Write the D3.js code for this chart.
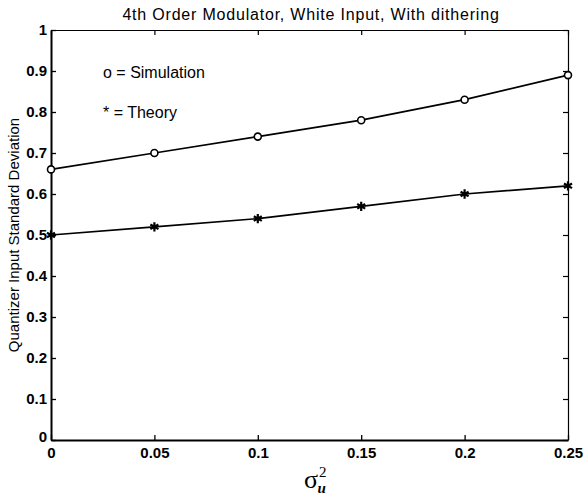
<!DOCTYPE html>
<html>
<head>
<meta charset="utf-8">
<script src="https://cdn.jsdelivr.net/npm/d3@7"></script>
<style>
body { margin: 0; background: #fff; }
text { font-family: "Liberation Sans", Arial, sans-serif; fill: #000; }
</style>
</head>
<body>
<div id="chart-area"></div>
<script>
// data
var sigmaU2 = [0, 0.05, 0.1, 0.15, 0.2, 0.25];
var simulation = [0.66, 0.70, 0.74, 0.78, 0.83, 0.89];
var theory = [0.50, 0.52, 0.54, 0.57, 0.60, 0.62];
var xTicks = [0, 0.05, 0.1, 0.15, 0.2, 0.25];
var yTicks = [0, 0.1, 0.2, 0.3, 0.4, 0.5, 0.6, 0.7, 0.8, 0.9, 1];

var margin = { left: 51, right: 17, top: 30, bottom: 57 };
var width = 585 - margin.left - margin.right;
var height = 497 - margin.top - margin.bottom;

var svg = d3.select("#chart-area").append("svg")
    .attr("width", 585)
    .attr("height", 497);

var g = svg.append("g")
    .attr("transform", "translate(" + margin.left + ", " + margin.top + ")");

var x = d3.scaleLinear().domain([0, 0.25]).range([0, width]);
var y = d3.scaleLinear().domain([0, 1]).range([height, 0]);

var fmt = (d) => String(d);

// axes (ticks pointing inward, matlab style)
var xAxis = g.append("g")
    .attr("transform", "translate(0, " + height + ")")
    .call(d3.axisBottom(x).tickValues(xTicks).tickSizeInner(-5).tickSizeOuter(0).tickPadding(7).tickFormat(fmt));
var yAxis = g.append("g")
    .call(d3.axisLeft(y).tickValues(yTicks).tickSizeInner(-5).tickSizeOuter(0).tickPadding(4).tickFormat(fmt));
var xTop = g.append("g")
    .call(d3.axisTop(x).tickValues(xTicks).tickSizeInner(-5).tickSizeOuter(0).tickFormat(""));
var yRight = g.append("g")
    .attr("transform", "translate(" + width + ", 0)")
    .call(d3.axisRight(y).tickValues(yTicks).tickSizeInner(-5).tickSizeOuter(0).tickFormat(""));

[xAxis, yAxis].forEach((a) => {
    a.selectAll(".tick text")
        .style("font-size", "15px")
        .style("font-weight", "bold")
        .attr("fill", "#000");
    a.select(".domain").attr("stroke-width", 2);
    a.selectAll(".tick line").attr("stroke-width", 1.3);
});
// nudge the corner zeros like the original
yAxis.selectAll(".tick text").filter((d) => d === 0).attr("dy", "0.1em");
[xTop, yRight].forEach((a) => {
    a.select(".domain").attr("stroke-width", 1.2);
    a.selectAll(".tick line").attr("stroke-width", 1.2);
});

// lines
var line = d3.line().x((d) => x(d[0])).y((d) => y(d[1]));
var simData = sigmaU2.map((s, i) => [s, simulation[i]]);
var thData = sigmaU2.map((s, i) => [s, theory[i]]);

g.append("path").datum(simData)
    .attr("fill", "none").attr("stroke", "#000").attr("stroke-width", 1.7)
    .attr("d", line);
g.append("path").datum(thData)
    .attr("fill", "none").attr("stroke", "#000").attr("stroke-width", 1.7)
    .attr("d", line);

// circle markers
g.selectAll("circle.sim").data(simData).enter().append("circle")
    .attr("class", "sim")
    .attr("cx", (d) => x(d[0]))
    .attr("cy", (d) => y(d[1]))
    .attr("r", 3.5)
    .attr("fill", "#fff")
    .attr("stroke", "#000")
    .attr("stroke-width", 1.6);

// asterisk markers
var star = d3.symbol().type(d3.symbolAsterisk).size(60);
g.selectAll("path.th").data(thData).enter().append("path")
    .attr("class", "th")
    .attr("transform", (d) => "translate(" + x(d[0]) + "," + y(d[1]) + ")")
    .attr("d", star)
    .attr("fill", "none")
    .attr("stroke", "#000")
    .attr("stroke-width", 2.2);

// legend text
g.append("text")
    .attr("x", 52).attr("y", 48)
    .style("font-size", "16px")
    .text("o = Simulation");
g.append("text")
    .attr("x", 52).attr("y", 88)
    .style("font-size", "16px")
    .text("* = Theory");

// title
svg.append("text")
    .attr("x", 311).attr("y", 20)
    .attr("text-anchor", "middle")
    .style("font-size", "16px")
    .style("letter-spacing", "0.8px")
    .text("4th Order Modulator, White Input, With dithering");

// y label
svg.append("text")
    .attr("transform", "translate(19, " + (margin.top + height / 2) + ") rotate(-90)")
    .attr("text-anchor", "middle")
    .style("font-size", "15px")
    .text("Quantizer Input Standard Deviation");

// x label
var xl = svg.append("text")
    .attr("x", 304).attr("y", 488)
    .style("font-family", "'Liberation Serif', 'Times New Roman', serif")
    .style("font-size", "26px");
xl.append("tspan").text("σ");
xl.append("tspan").attr("dy", -11).attr("dx", 1).style("font-size", "15px").text("2");
xl.append("tspan").attr("dy", 16).attr("dx", -9).style("font-size", "15px").style("font-style", "italic").style("font-weight", "bold").text("u");
</script>
</body>
</html>
